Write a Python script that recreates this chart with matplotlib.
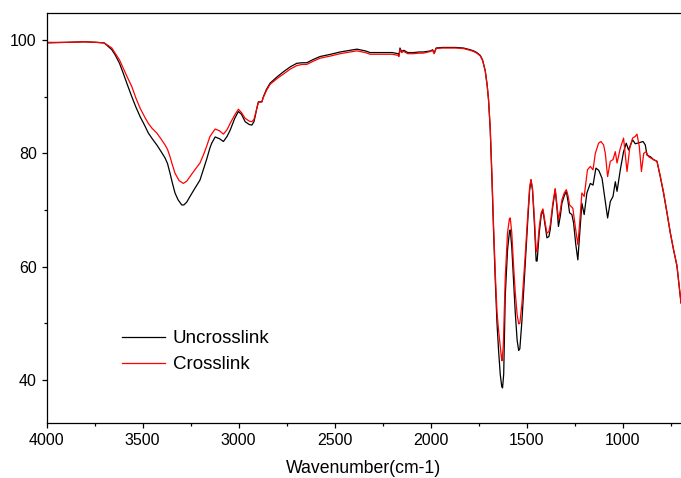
import numpy as np
import matplotlib
matplotlib.use("Agg")
import matplotlib.pyplot as plt
from matplotlib.ticker import MultipleLocator

plt.rcParams['font.family'] = ['Liberation Sans', 'DejaVu Sans']

# FTIR spectra, wavenumber (cm-1) vs transmittance (%)
wn_uncross = [4000, 3900, 3800, 3740, 3700, 3686, 3660, 3643, 3620, 3600, 3580, 3556, 3535, 3513,
              3490, 3470, 3450, 3426, 3405, 3383, 3370, 3357, 3345, 3331, 3315, 3296, 3285, 3270,
              3253, 3230, 3201, 3180, 3166, 3149, 3140, 3122, 3100, 3079, 3060, 3044, 3020, 3001,
              2985, 2966, 2945, 2931, 2920, 2914, 2905, 2897, 2879, 2871, 2855, 2836, 2800, 2767,
              2730, 2697, 2670, 2645, 2610, 2576, 2520, 2472, 2420, 2384, 2341, 2315, 2263, 2200,
              2170, 2165, 2160, 2152, 2140, 2120, 2090, 2060, 2038, 2000, 1990, 1982, 1972, 1940,
              1916, 1870, 1829, 1795, 1777, 1760, 1742, 1730, 1716, 1706, 1699, 1690, 1681, 1673,
              1664, 1655, 1647, 1638, 1630, 1626, 1620, 1612, 1600, 1590, 1586, 1578, 1570, 1560,
              1550, 1542, 1536, 1525, 1508, 1495, 1485, 1478, 1470, 1460, 1451, 1446, 1435, 1425,
              1416, 1405, 1395, 1385, 1378, 1365, 1352, 1343, 1335, 1325, 1317, 1305, 1294, 1285,
              1277, 1265, 1256, 1245, 1234, 1225, 1213, 1201, 1187, 1169, 1155, 1140, 1125, 1108,
              1095, 1079, 1065, 1051, 1039, 1030, 1013, 996, 982, 970, 949, 935, 923, 913, 895,
              883, 874, 856, 840, 822, 805, 788, 770, 753, 736, 718, 697]
t_uncross = [99.5, 99.6, 99.7, 99.6, 99.5, 99.1, 98.3, 97.4, 95.9, 94.1, 92.2, 90.0, 88.2, 86.5,
             85.0, 83.6, 82.6, 81.5, 80.4, 79.2, 78.2, 76.5, 74.8, 73.0, 71.8, 70.9, 70.9, 71.4,
             72.4, 73.7, 75.3, 77.5, 79.0, 81.0, 81.8, 82.9, 82.6, 82.1, 83.0, 84.1, 86.2, 87.4,
             86.9, 85.6, 85.1, 85.0, 85.6, 86.5, 88.0, 89.1, 89.1, 90.0, 91.3, 92.4, 93.5, 94.4,
             95.3, 95.9, 96.0, 96.0, 96.6, 97.1, 97.5, 97.9, 98.2, 98.4, 98.1, 97.8, 97.8, 97.8,
             97.6, 97.4, 98.6, 98.0, 98.2, 97.8, 97.8, 97.9, 97.9, 98.1, 98.3, 97.7, 98.6, 98.7,
             98.7, 98.7, 98.6, 98.3, 98.1, 97.8, 97.3, 96.5, 94.6, 92.0, 89.5, 84.1, 75.3, 66.5,
             57.7, 50.1, 45.4, 41.0, 38.8, 38.6, 41.0, 54.8, 63.0, 66.2, 66.5, 63.5, 58.5, 52.0,
             47.0, 45.2, 45.5, 50.5, 60.6, 68.0, 73.5, 75.3, 73.5, 67.5, 61.0, 61.0, 66.0, 69.0,
             70.0, 67.5, 65.1, 65.3, 66.5, 70.5, 73.6, 70.5, 67.1, 69.0, 71.2, 72.5, 73.3, 71.5,
             69.5, 69.2, 67.7, 64.0, 61.2, 65.5, 71.2, 69.2, 73.0, 74.7, 74.4, 77.4, 77.0, 75.6,
             72.5, 68.6, 71.5, 72.4, 75.0, 73.3, 77.1, 80.3, 81.8, 80.6, 82.4, 81.7, 81.8, 81.9, 82.1,
             81.5, 79.7, 79.4, 78.9, 78.6, 75.9, 73.0, 69.5, 66.0, 63.0, 60.1, 53.6]

wn_cross = [4000, 3900, 3800, 3740, 3700, 3686, 3660, 3643, 3620, 3600, 3580, 3556, 3535, 3513,
            3490, 3470, 3450, 3426, 3405, 3383, 3370, 3357, 3345, 3331, 3310, 3288, 3270, 3253,
            3230, 3201, 3180, 3166, 3149, 3122, 3100, 3079, 3060, 3044, 3020, 3001, 2985, 2966,
            2945, 2931, 2920, 2914, 2905, 2897, 2879, 2871, 2855, 2836, 2800, 2767, 2730, 2697,
            2670, 2645, 2610, 2576, 2520, 2472, 2420, 2384, 2341, 2315, 2263, 2200, 2170, 2165,
            2160, 2152, 2140, 2120, 2090, 2060, 2038, 2000, 1990, 1982, 1972, 1940, 1916, 1870,
            1829, 1795, 1777, 1760, 1742, 1730, 1716, 1706, 1699, 1690, 1681, 1673, 1664, 1655,
            1647, 1638, 1632, 1629, 1622, 1612, 1600, 1590, 1586, 1578, 1570, 1560, 1550, 1542,
            1536, 1525, 1508, 1495, 1485, 1478, 1470, 1460, 1451, 1446, 1435, 1425, 1416, 1405,
            1395, 1385, 1378, 1365, 1352, 1343, 1335, 1325, 1317, 1305, 1294, 1285, 1277, 1265,
            1260, 1245, 1234, 1225, 1213, 1201, 1184, 1169, 1155, 1143, 1126, 1114, 1100, 1091,
            1079, 1065, 1051, 1039, 1030, 1013, 996, 978, 964, 949, 935, 926, 914, 903, 891, 879,
            865, 840, 822, 805, 788, 770, 753, 736, 718, 697]
t_cross = [99.6, 99.6, 99.7, 99.6, 99.5, 99.2, 98.6, 97.7, 96.5, 95.0, 93.5, 91.8, 89.8, 88.0,
           86.5, 85.3, 84.4, 83.6, 82.6, 81.5, 80.7, 79.4, 78.0, 76.5, 75.2, 74.7, 75.1, 75.9,
           77.0, 78.3, 80.0, 81.3, 83.0, 84.3, 84.0, 83.4, 84.2, 85.3, 86.8, 87.8, 87.2, 86.2,
           85.7, 85.6, 86.0, 86.8, 88.0, 89.0, 89.1, 89.9, 91.1, 92.2, 93.2, 94.0, 94.9, 95.5,
           95.7, 95.7, 96.3, 96.8, 97.2, 97.6, 97.9, 98.1, 97.8, 97.5, 97.5, 97.5, 97.3, 97.1,
           98.4, 97.8, 98.0, 97.6, 97.6, 97.7, 97.7, 98.0, 98.2, 97.6, 98.5, 98.6, 98.6, 98.6,
           98.5, 98.2, 98.0, 97.7, 97.2, 96.4, 94.5, 92.0, 89.5, 84.5, 76.0, 67.5, 59.0, 52.0,
           48.9, 46.0, 44.0, 43.4, 46.0, 58.0, 66.0, 68.5, 68.6, 66.0, 61.0, 55.5, 51.5, 49.9,
           50.0, 53.5, 62.0, 69.0, 74.0, 75.4, 73.8, 68.5, 62.7, 62.7, 67.0, 69.5, 70.2, 68.0,
           65.9, 66.2, 67.3, 71.0, 73.8, 71.0, 68.3, 70.0, 71.8, 73.0, 73.6, 72.5, 70.9, 70.5,
           70.3, 66.5, 63.9, 67.5, 73.0, 72.4, 77.1, 77.7, 77.1, 80.0, 81.8, 82.1, 81.5, 80.0,
           75.9, 78.6, 78.9, 80.3, 78.3, 80.9, 82.7, 76.8, 80.9, 82.7, 83.0, 83.4, 81.2, 76.8, 80.0, 80.3,
           79.4, 78.9, 78.6, 76.0, 73.2, 69.6, 66.1, 63.1, 60.2, 53.6]

labels = ["Uncrosslink", "Crosslink"]

fig = plt.figure(figsize=(6.81, 4.78), dpi=100)
ax = fig.add_axes([0.0683, 0.115, 0.9317, 0.858])

ax.plot(wn_uncross, t_uncross, color="black", lw=0.9, label=labels[0])
ax.plot(wn_cross, t_cross, color="red", lw=0.9, label=labels[1])

ax.set_xlim(4000, 697)
ax.set_ylim(32.4, 104.8)
ax.xaxis.set_major_locator(MultipleLocator(500))
ax.xaxis.set_minor_locator(MultipleLocator(250))
ax.yaxis.set_major_locator(MultipleLocator(20))
ax.yaxis.set_minor_locator(MultipleLocator(10))
ax.tick_params(which="major", direction="out", length=3.5, width=0.9, labelsize=11.5)
ax.tick_params(which="minor", direction="out", length=2.5, width=0.9)
for s in ax.spines.values():
    s.set_linewidth(0.9)
ax.spines["right"].set_visible(False)

ax.set_xlabel("Wavenumber(cm-1)", fontsize=12.7, labelpad=9)

ax.legend(loc="upper left", bbox_to_anchor=(0.119, 0.226), frameon=False,
          fontsize=13.5, handlelength=2.3, handletextpad=0.4, labelspacing=0.47,
          borderpad=0, borderaxespad=0)

fig.savefig("out.png", dpi=100)
